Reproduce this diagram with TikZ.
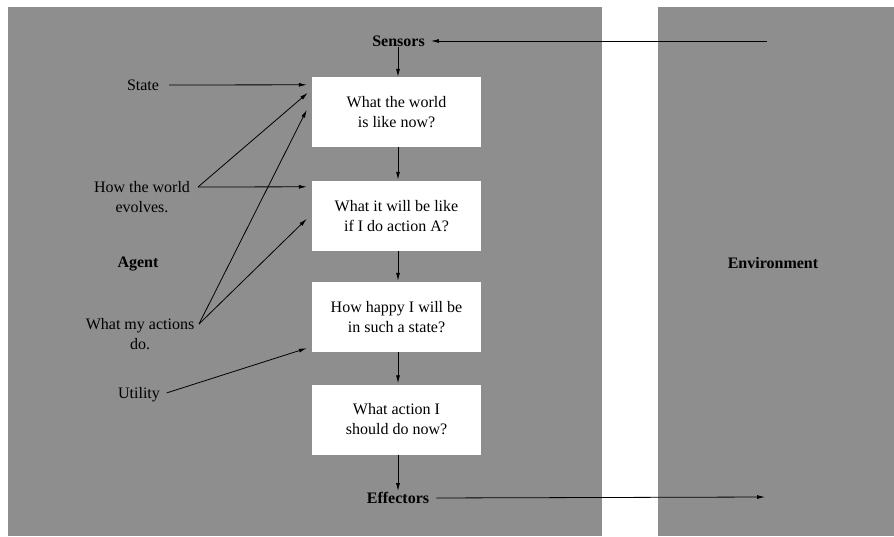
\documentclass[tikz,border=0pt]{standalone}
\usepackage{fontspec}
\setmainfont{Liberation Serif}
\usetikzlibrary{arrows.meta,calc}
\definecolor{panel}{RGB}{142,142,142}
\begin{document}
\begin{tikzpicture}[x=1pt,y=-1pt,
  every node/.style={font=\fontsize{16}{20}\selectfont, inner sep=0pt},
  stage/.style={fill=white, minimum width=169pt, minimum height=70pt, align=center},
  side/.style={align=center},
  heading/.style={font=\fontsize{16}{20}\selectfont\bfseries},
  flow/.style={draw=black, line width=0.8pt, -{Latex[length=8pt,width=4pt]}}]
% canvas and the two panels
\useasboundingbox (0,0) rectangle (894,536);
\fill[white] (0,0) rectangle (894,536);
\fill[panel] (8,7) rectangle (602,536);
\fill[panel] (658,7) rectangle (894,536);

% panel headings
\node[heading] (agent) at (138,264) {Agent};
\node[heading] (env) at (773,263) {Environment};
\node[heading] (sens) at (398.5,41) {Sensors};
\node[heading] (eff) at (398,498) {Effectors};

% reasoning stages
\node[stage] (b1) at (396.5,112) {What the world\\is like now?};
\node[stage] (b2) at (396.5,216) {What it will be like\\if I do action A?};
\node[stage] (b3) at (396.5,317) {How happy I will be\\in such a state?};
\node[stage] (b4) at (396.5,419.5) {What action I\\should do now?};

% knowledge sources
\node[side] (state) at (143,85) {State};
\node[side] (evolve) at (142,197) {How the world\\evolves.};
\node[side] (acts) at (140,334) {What my actions\\do.};
\node[side] (util) at (139,395) {Utility};
\coordinate (ev) at (198,187);
\coordinate (ac) at (199,324);

% percept and action flow, along one vertical axis
\coordinate (axis) at (398,0);
\coordinate (sensin) at (767,41);
\coordinate (effout) at (765,497);
\draw[flow, shorten >=6pt] (sensin) -- (sens.east);
\draw[flow] (sens.south -| axis) -- (b1.north -| axis);
\draw[flow, shorten >=1pt] (b1.south -| axis) -- (b2.north -| axis);
\draw[flow, shorten >=1pt] (b2.south -| axis) -- (b3.north -| axis);
\draw[flow, shorten >=1pt] (b3.south -| axis) -- (b4.north -| axis);
\draw[flow, shorten >=1pt] (b4.south -| axis) -- (eff.north -| axis);
\draw[flow, shorten <=7pt] (eff.east) -- (effout);

% inputs into the stages
\draw[flow, shorten <=10pt] (state.east) -- ($(b1.north west)+(-5,8)$);
\draw[flow] (ev) -- ($(b1.north west)+(-4,16)$);
\draw[flow] (ev) -- ($(b2.north west)+(-5,6)$);
\draw[flow] (ac) -- ($(b1.north west)+(-5,33)$);
\draw[flow] (ac) -- ($(b2.north west)+(-5,38)$);
\draw[flow, shorten <=7pt] (util.east) -- ($(b3.south west)+(-5,-4)$);
\end{tikzpicture}
\end{document}
